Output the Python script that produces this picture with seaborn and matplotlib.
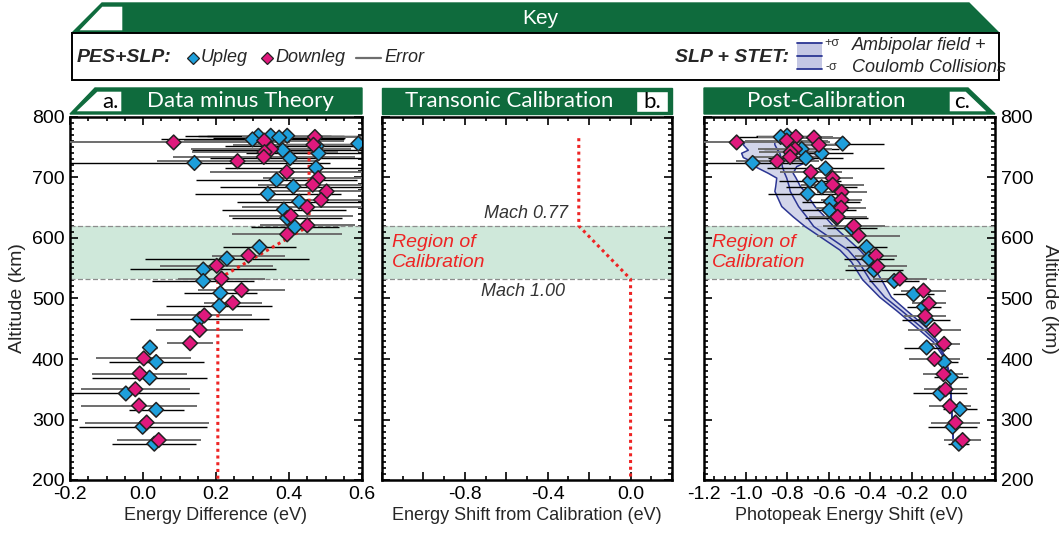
import matplotlib
matplotlib.use("Agg")
import matplotlib.pyplot as plt
import numpy as np
import pandas as pd
import seaborn as sns
from matplotlib.patches import Polygon, Rectangle
from matplotlib.lines import Line2D
from matplotlib.ticker import MultipleLocator, FuncFormatter

# ---- data ----
# panel a: data minus theory (eV), upleg / downleg
a_up_alt = [769, 769, 769, 766, 763, 756, 752, 745, 740, 732, 724, 716, 696, 685, 673, 660, 647,
            633, 618, 585, 566, 548, 529, 509, 488, 466, 419, 395, 369, 343, 316, 288, 260]
a_up_x = [0.316, 0.350, 0.395, 0.373, 0.300, 0.590, 0.476, 0.383, 0.481, 0.403, 0.141, 0.474,
          0.366, 0.412, 0.342, 0.428, 0.386, 0.395, 0.416, 0.319, 0.230, 0.165, 0.165, 0.212,
          0.209, 0.155, 0.019, 0.036, 0.018, -0.047, 0.036, -0.001, 0.031]
a_up_err = [0.20, 0.20, 0.22, 0.18, 0.25, 0.20, 0.25, 0.25, 0.20, 0.22, 0.37, 0.25, 0.22, 0.20,
            0.20, 0.17, 0.17, 0.15, 0.12, 0.10, 0.225, 0.20, 0.14, 0.10, 0.145, 0.19, 0.02,
            0.13, 0.157, 0.20, 0.075, 0.175, 0.115]
a_dn_alt = [767, 761, 758, 754, 747, 742, 734, 727, 709, 699, 688, 677, 663, 651, 637, 621, 606,
            571, 554, 533, 514, 493, 472, 448, 426, 401, 376, 350, 323, 295, 266]
a_dn_x = [0.471, 0.332, 0.084, 0.467, 0.351, 0.333, 0.331, 0.259, 0.394, 0.480, 0.465, 0.503,
          0.488, 0.450, 0.405, 0.450, 0.395, 0.289, 0.202, 0.215, 0.270, 0.246, 0.168, 0.155,
          0.129, 0.002, -0.009, -0.021, -0.011, 0.010, 0.043]
a_dn_err = [0.20, 0.22, 0.32, 0.22, 0.22, 0.20, 0.25, 0.22, 0.21, 0.15, 0.15, 0.17, 0.15, 0.18,
            0.17, 0.13, 0.15, 0.10, 0.155, 0.12, 0.12, 0.08, 0.13, 0.12, 0.063, 0.13, 0.13,
            0.15, 0.16, 0.17, 0.115]

# panel c: post-calibration photopeak shift (eV)
c_up_alt = [769, 767, 756, 747, 740, 732, 724, 715, 695, 684, 673, 660, 646, 633, 616, 585, 566,
            547, 529, 507, 486, 465, 419, 395, 370, 343, 317, 288, 260]
c_up_x = [-0.800, -0.831, -0.533, -0.730, -0.634, -0.710, -0.966, -0.615, -0.690, -0.634, -0.701,
          -0.589, -0.597, -0.562, -0.490, -0.418, -0.407, -0.383, -0.285, -0.192, -0.142, -0.131,
          -0.129, -0.045, -0.012, -0.064, 0.031, -0.004, 0.026]
c_up_err = [0.15, 0.20, 0.20, 0.18, 0.15, 0.18, 0.25, 0.28, 0.15, 0.17, 0.19, 0.14, 0.13, 0.15,
            0.12, 0.10, 0.12, 0.14, 0.12, 0.10, 0.08, 0.116, 0.108, 0.068, 0.08, 0.13, 0.08,
            0.116, 0.05]
c_dn_alt = [767, 766, 761, 758, 754, 747, 742, 734, 727, 709, 699, 688, 676, 663, 650, 635, 620,
            604, 571, 553, 533, 513, 492, 471, 448, 425, 400, 375, 350, 322, 295, 266]
c_dn_x = [-0.758, -0.671, -0.802, -1.043, -0.647, -0.762, -0.783, -0.786, -0.848, -0.686, -0.581,
          -0.581, -0.538, -0.538, -0.540, -0.557, -0.479, -0.456, -0.373, -0.365, -0.258, -0.144,
          -0.118, -0.136, -0.091, -0.045, -0.091, -0.048, -0.038, -0.017, 0.010, 0.044]
c_dn_err = [0.18, 0.15, 0.20, 0.45, 0.15, 0.18, 0.15, 0.18, 0.20, 0.15, 0.10, 0.15, 0.12, 0.10,
            0.12, 0.14, 0.15, 0.20, 0.10, 0.14, 0.13, 0.11, 0.08, 0.10, 0.128, 0.076, 0.124,
            0.096, 0.104, 0.10, 0.116, 0.09]

# ambipolar field + coulomb collisions band (-sigma, model, +sigma)
band_alt = [760, 754, 745, 740, 733, 729, 718, 707, 699, 685, 677, 652, 635, 619, 580, 560, 531,
            502, 480, 452, 428, 404, 372, 317, 262]
band_lo = [-1.000, -1.011, -0.987, -1.019, -1.011, -0.987, -0.955, -0.891, -0.850, -0.855, -0.859,
           -0.826, -0.771, -0.714, -0.546, -0.490, -0.437, -0.354, -0.274, -0.177, -0.097, -0.049,
           -0.017, -0.010, 0.000]
band_mid = [-0.860, -0.859, -0.845, -0.835, -0.830, -0.828, -0.823, -0.812, -0.802, -0.790,
            -0.785, -0.745, -0.706, -0.672, -0.506, -0.455, -0.402, -0.330, -0.250, -0.153,
            -0.081, -0.045, -0.017, -0.009, 0.000]
band_hi = [-0.660, -0.658, -0.658, -0.658, -0.660, -0.682, -0.754, -0.771, -0.757, -0.736, -0.715,
           -0.666, -0.618, -0.575, -0.450, -0.400, -0.346, -0.298, -0.225, -0.129, -0.073, -0.041,
           -0.015, -0.008, 0.000]

# transonic calibration curve (panel b) and its theory-offset copy (panel a)
calib_alt = [765, 620, 532, 200]
calib_shift = [-0.25, -0.25, 0.0, 0.0]
theory_line_x = [0.455, 0.455, 0.205, 0.205]

cal_lo, cal_hi = 532, 620

# ---- style ----
W, H = 1064, 544
GREEN = "#0f6b3d"
BLUE = "#1e9fdb"
PINK = "#e0197d"
SHADE = "#cfe8da"
BAND = "#c4c7e4"
BANDLINE = "#2b3593"
RED = "#ee2424"

sns.set_theme(style="ticks")
plt.rcParams["font.family"] = ["Liberation Sans", "DejaVu Sans"]
plt.rcParams["axes.unicode_minus"] = False
TITLE_FONT = ["Lato", "DejaVu Sans"]


def fx(x):
    return x / W


def fy(y):
    return 1 - y / H


def poly(fig, pts, **kw):
    p = Polygon([(fx(x), fy(y)) for x, y in pts], closed=True, transform=fig.transFigure, **kw)
    fig.add_artist(p)


def style_axes(ax):
    for s in ax.spines.values():
        s.set_linewidth(1.8)
        s.set_color("black")
    ax.set_ylim(200, 800)
    ax.yaxis.set_major_locator(MultipleLocator(100))
    ax.yaxis.set_minor_locator(MultipleLocator(10))
    ax.tick_params(which="both", direction="in", top=True, right=True, width=1.2,
                   labelsize=14, pad=4, colors="black")
    ax.tick_params(which="major", length=6)
    ax.tick_params(which="minor", length=3)
    ax.set_facecolor("white")
    ax.grid(False)


def calib_band(ax):
    ax.axhspan(cal_lo, cal_hi, color=SHADE, zorder=0, lw=0)
    for yy in (cal_lo, cal_hi):
        ax.axhline(yy, color="#8c8c8c", ls=(0, (4, 2)), lw=0.9, zorder=1)


def points(ax, up_alt, up_x, up_err, dn_alt, dn_x, dn_err):
    ax.errorbar(up_x, up_alt, xerr=up_err, yerr=6, fmt="none", ecolor="black",
                elinewidth=1.0, capsize=0, zorder=3)
    ax.errorbar(dn_x, dn_alt, xerr=dn_err, yerr=6, fmt="none", ecolor="#6e6e6e",
                elinewidth=1.4, capsize=0, zorder=3)
    df = pd.concat([
        pd.DataFrame({"x": up_x, "alt": up_alt, "leg": "Upleg"}),
        pd.DataFrame({"x": dn_x, "alt": dn_alt, "leg": "Downleg"}),
    ])
    sns.scatterplot(data=df, x="x", y="alt", hue="leg", palette={"Upleg": BLUE, "Downleg": PINK},
                    marker="D", s=56, edgecolor="#222222", linewidth=1.1, legend=False,
                    ax=ax, zorder=5)
    ax.set_xlabel("")
    ax.set_ylabel("")


def profile(ax, xs, ys, **kw):
    sns.lineplot(x=xs, y=ys, sort=False, estimator=None, ax=ax, **kw)


fig = plt.figure(figsize=(W / 100, H / 100), dpi=100)
fig.patch.set_facecolor("white")

ax_a = fig.add_axes([fx(70), fy(480), 292 / W, 363 / H])
ax_b = fig.add_axes([fx(382), fy(480), 290 / W, 363 / H])
ax_c = fig.add_axes([fx(704), fy(480), 291 / W, 363 / H])

# ---- panel a ----
calib_band(ax_a)
points(ax_a, a_up_alt, a_up_x, a_up_err, a_dn_alt, a_dn_x, a_dn_err)
profile(ax_a, theory_line_x, calib_alt, color=RED, lw=2.2, ls=(0, (1, 1.2)), zorder=4)
ax_a.set_xlim(-0.2, 0.6)
ax_a.xaxis.set_major_locator(MultipleLocator(0.2))
ax_a.xaxis.set_minor_locator(MultipleLocator(0.05))
ax_a.xaxis.set_major_formatter(FuncFormatter(lambda v, p: f"{v:.1f}".replace("-0.0", "0.0")))
style_axes(ax_a)
ax_a.set_xlabel("Energy Difference (eV)", fontsize=13, labelpad=3)
ax_a.set_ylabel("Altitude (km)", fontsize=14, labelpad=4)

# ---- panel b ----
calib_band(ax_b)
profile(ax_b, calib_shift, calib_alt, color=RED, lw=2.2, ls=(0, (1, 1.2)), zorder=4)
ax_b.set_xlim(-1.2, 0.2)
ax_b.xaxis.set_major_locator(MultipleLocator(0.2))
ax_b.xaxis.set_minor_locator(MultipleLocator(0.1))
b_labels = {-0.8: "-0.8", -0.4: "-0.4", 0.0: "0.0"}
ax_b.xaxis.set_major_formatter(FuncFormatter(
    lambda v, p: b_labels.get(round(v, 1) + 0.0, "")))
style_axes(ax_b)
ax_b.tick_params(labelleft=False)
ax_b.set_xlabel("Energy Shift from Calibration (eV)", fontsize=13, labelpad=3)
ax_b.set_ylabel("")
ax_b.text(-1.15, 576, "Region of\nCalibration", color=RED, style="italic", fontsize=14,
          ha="left", va="center", linespacing=1.2, zorder=6)
ax_b.text(-0.30, 627, "Mach 0.77", color="#333333", style="italic", fontsize=13,
          ha="right", va="bottom", zorder=6)
ax_b.text(-0.315, 525, "Mach 1.00", color="#333333", style="italic", fontsize=13,
          ha="right", va="top", zorder=6)

# ---- panel c ----
calib_band(ax_c)
ax_c.fill_betweenx(band_alt, band_lo, band_hi, color=BAND, alpha=0.75, lw=0, zorder=2)
for xs in (band_lo, band_mid, band_hi):
    profile(ax_c, xs, band_alt, color=BANDLINE, lw=1.1, zorder=2.5)
points(ax_c, c_up_alt, c_up_x, c_up_err, c_dn_alt, c_dn_x, c_dn_err)
ax_c.set_xlim(-1.2, 0.2)
ax_c.xaxis.set_major_locator(MultipleLocator(0.2))
ax_c.xaxis.set_minor_locator(MultipleLocator(0.05))
ax_c.xaxis.set_major_formatter(FuncFormatter(
    lambda v, p: "" if v > 0.1 else f"{v:.1f}".replace("-0.0", "0.0")))
style_axes(ax_c)
ax_c.tick_params(labelleft=False, labelright=True)
ax_c.yaxis.set_label_position("right")
ax_c.set_ylabel("Altitude (km)", fontsize=14, rotation=270, labelpad=18)
ax_c.set_xlabel("Photopeak Energy Shift (eV)", fontsize=13, labelpad=3)
ax_c.text(-1.16, 576, "Region of\nCalibration", color=RED, style="italic", fontsize=14,
          ha="left", va="center", linespacing=1.2, zorder=6)

# ---- panel banners ----
poly(fig, [(70, 114), (95, 88), (362, 88), (362, 114)], facecolor=GREEN, edgecolor=GREEN, lw=1)
poly(fig, [(75, 112), (97, 91), (122, 91), (122, 112)], facecolor="white", edgecolor=GREEN, lw=1)
fig.text(fx(110), fy(102), "a.", color="black", fontsize=16, ha="center", va="center",
         family=TITLE_FONT)
fig.text(fx(240), fy(101), "Data minus Theory", color="white", fontsize=16, ha="center",
         va="center", family=TITLE_FONT)

poly(fig, [(382, 114), (382, 88), (672, 88), (672, 114)], facecolor=GREEN, edgecolor=GREEN, lw=1)
poly(fig, [(636, 112), (636, 91), (668, 91), (668, 112)], facecolor="white", edgecolor=GREEN, lw=1)
fig.text(fx(652), fy(102), "b.", color="black", fontsize=16, ha="center", va="center",
         family=TITLE_FONT)
fig.text(fx(509), fy(101), "Transonic Calibration", color="white", fontsize=16, ha="center",
         va="center", family=TITLE_FONT)

poly(fig, [(704, 114), (704, 88), (968, 88), (995, 114)], facecolor=GREEN, edgecolor=GREEN, lw=1)
poly(fig, [(949, 112), (949, 91), (966, 91), (988, 112)], facecolor="white", edgecolor=GREEN, lw=1)
fig.text(fx(962), fy(102), "c.", color="black", fontsize=16, ha="center", va="center",
         family=TITLE_FONT)
fig.text(fx(826), fy(101), "Post-Calibration", color="white", fontsize=16, ha="center",
         va="center", family=TITLE_FONT)

# ---- key ----
poly(fig, [(72, 33), (102, 3), (969, 3), (999, 33)], facecolor=GREEN, edgecolor=GREEN, lw=1)
poly(fig, [(78, 31), (102, 6), (123, 6), (123, 31)], facecolor="white", edgecolor=GREEN, lw=1)
fig.text(fx(540), fy(18), "Key", color="white", fontsize=15, ha="center", va="center")
fig.add_artist(Rectangle((fx(72), fy(80)), (999 - 72) / W, 47 / H, transform=fig.transFigure,
                         facecolor="white", edgecolor="black", lw=1.4))

fig.text(fx(77), fy(58), "PES+SLP:", fontsize=14, weight="bold", style="italic",
         ha="left", va="center")
fig.add_artist(Line2D([fx(193)], [fy(58)], marker="D", ms=6, color=BLUE, mec="#222222",
                      mew=0.9, transform=fig.transFigure))
fig.text(fx(201), fy(58), "Upleg", fontsize=13, style="italic", ha="left", va="center")
fig.add_artist(Line2D([fx(267)], [fy(58)], marker="D", ms=6, color=PINK, mec="#222222",
                      mew=0.9, transform=fig.transFigure))
fig.text(fx(275), fy(58), "Downleg", fontsize=13, style="italic", ha="left", va="center")
fig.add_artist(Line2D([fx(356), fx(381)], [fy(58), fy(58)], color="#6e6e6e", lw=1.6,
                      transform=fig.transFigure))
fig.text(fx(384), fy(58), "Error", fontsize=13, style="italic", ha="left", va="center")

fig.text(fx(789), fy(58), "SLP + STET:", fontsize=14, weight="bold", style="italic",
         ha="right", va="center")
fig.add_artist(Rectangle((fx(797), fy(69)), 25 / W, 26 / H, transform=fig.transFigure,
                         facecolor=BAND, edgecolor="none"))
for yy in (43, 56, 69):
    fig.add_artist(Line2D([fx(797), fx(822)], [fy(yy), fy(yy)], color=BANDLINE, lw=1.3,
                          transform=fig.transFigure))
fig.text(fx(824), fy(43), "+σ", fontsize=9, ha="left", va="center", color="#333333")
fig.text(fx(826), fy(67), "-σ", fontsize=9, ha="left", va="center", color="#333333")
fig.text(fx(852), fy(46), "Ambipolar field +", fontsize=13, style="italic", ha="left",
         va="center")
fig.text(fx(852), fy(67), "Coulomb Collisions", fontsize=13, style="italic", ha="left",
         va="center")

fig.savefig("out.png", dpi=100, facecolor="white")
